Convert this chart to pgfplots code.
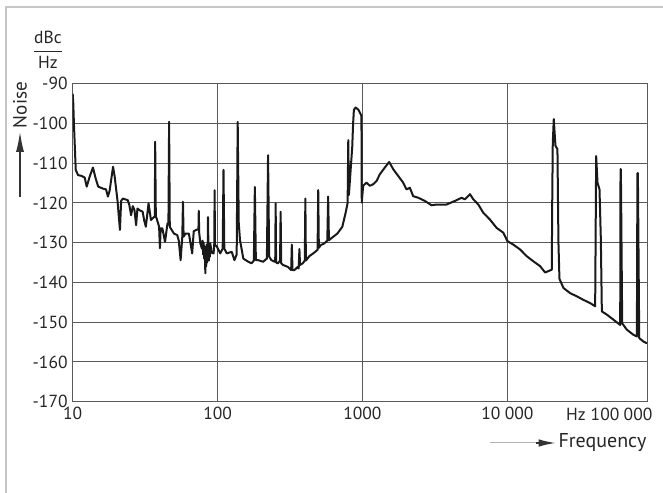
\documentclass[border=0pt]{standalone}
\usepackage{fontspec}
\setmainfont{PT Sans}
\usepackage{pgfplots}
\pgfplotsset{compat=1.18}
\usetikzlibrary{arrows.meta}
\begin{document}
\begin{tikzpicture}
\path[use as bounding box] (-43.6pt,-54.8pt) rectangle (354.2pt,241pt);
\draw[gray!45, line width=0.7pt] (-40pt,-54.8pt) -- (-40pt,236.8pt) -- (354.2pt,236.8pt);
\begin{axis}[
  at={(0,0)}, anchor=south west,
  scale only axis, width=344.6pt, height=190.8pt,
  xmode=log, xmin=10, xmax=92000, ymin=-170, ymax=-90,
  xtick={10,100,1000,10000}, xticklabels={10,100,1000,10\hspace{0.25em}000},
  ytick={-170,-160,-150,-140,-130,-120,-110,-100,-90},
  yticklabels={-170,-160,-150,-140,-130,-120,-110,-100,-90},
  xminorticks=false, yminorticks=false, major tick length=0pt,
  grid=major, major grid style={black!65, line width=0.6pt},
  axis line style={black!65, line width=0.6pt},
  ticklabel style={font=\fontsize{10.5}{12}\selectfont, text=black!85},
  xticklabel style={yshift=0.5pt},
  yticklabel style={xshift=0.5pt},
]
\addplot[black!90, line width=1.2pt, line join=round, mark=none] coordinates {
(10.0,-92.5) (10.1,-95) (10.2,-100) (10.5,-111.7) (10.9,-113.0) (11.5,-113.2) (12.1,-113.6)
(12.5,-115.9) (13.1,-113.4) (13.8,-111.1) (14.4,-113.8) (15.0,-115.9) (16.2,-116.4) (17.0,-116.6)
(17.5,-118.4) (18.0,-116.9) (19.0,-110.9) (19.5,-113.4) (20.4,-119.5) (21.2,-126.8) (21.6,-119.5)
(22.2,-118.9) (24.0,-119.3) (24.6,-120.5) (25.3,-123.1) (26.0,-120.8) (26.7,-121.8) (27.4,-125.6)
(28.0,-121.4) (28.8,-121.8) (30.4,-122.2) (31.2,-124.5) (32.0,-126.0) (33.4,-120.1) (34.7,-124.3)
(36.5,-123.5) (36.9,-123.5) (37.1,-104.6) (37.5,-123.5) (37.9,-123.8) (39.5,-126.0) (40.0,-131.4)
(40.5,-126.4) (41.6,-126.4) (43.4,-129.8) (45.1,-125.2) (45.8,-125.5) (46.3,-99.6) (46.8,-126.0)
(47.5,-126.4) (50.0,-127.7) (52.7,-128.1) (54.0,-129.5) (55.6,-134.4) (57.1,-128.5) (57.7,-119.7)
(58.3,-128.5) (60.1,-127.7) (63.4,-127.7) (66.8,-132.7) (68.5,-127.1) (72.2,-126.7) (73.8,-126.7)
(74.2,-122.0) (74.7,-127.5) (76.1,-130.2) (78.0,-131.5) (78.8,-129.5) (79.5,-133.0) (80.2,-130.0)
(80.8,-134.0) (81.5,-131.0) (82.0,-135.5) (82.4,-137.7) (82.9,-132.0) (83.5,-136.0) (84.0,-130.5)
(84.6,-135.0) (85.2,-131.0) (85.5,-133.0) (85.9,-123.6) (86.5,-131.5) (87.2,-134.5) (88.0,-130.5)
(88.6,-133.5) (89.1,-130.2) (91.0,-132.5) (93.9,-132.7)
(95.0,-130.0) (95.4,-116.8) (96.0,-130.5) (98.9,-131.0) (104.3,-132.7) (108.5,-131.5) (109.9,-111.7)
(111.3,-131.5) (115.8,-132.7) (125.3,-132.3) (130.7,-134.4) (135.5,-133.0) (137.7,-99.6) (140.0,-125.0)
(142.9,-129.4) (150.6,-134.0) (162.8,-134.8) (171.6,-135.2) (178.0,-134.5) (180.9,-116.0) (183.8,-134.4)
(190.6,-134.4) (206.3,-134.8) (219.0,-134.0) (223.1,-108.0) (227.0,-133.5) (235.1,-134.4) (247.8,-134.8)
(250.0,-134.5) (251.7,-120.1) (253.5,-135.0) (261.2,-135.2) (270.0,-134.5) (272.4,-122.2) (275.0,-135.2)
(282.5,-135.6) (305.6,-136.1) (322.1,-136.9) (325.5,-130.5) (329.0,-136.9) (339.5,-136.9) (357.7,-136.1)
(363.0,-136.5) (367.2,-131.6) (371.0,-135.6) (387.0,-135.2) (400.0,-134.5) (403.6,-118.9) (407.0,-134.5)
(429.8,-133.4) (465.0,-132.5) (490.0,-131.8) (495.2,-116.8) (500.0,-131.3) (516.4,-130.6) (544.3,-130.2)
(572.0,-129.5) (579.7,-118.4) (587.0,-129.4) (604.5,-129.0) (671.3,-127.7) (726.1,-126.0) (765.3,-122.5)
(790.0,-120.0) (798.2,-104.2) (806.0,-118.0) (819.4,-114.3) (835.0,-110.0) (850.1,-105.9) (862.0,-100.0)
(872.7,-96.6) (895.9,-96.0) (935.0,-96.5) (958.0,-97.2) (984.0,-98.1) (989.0,-119.9) (1011,-115.7)
(1066,-114.9) (1124,-115.7) (1185,-115.3) (1250,-114.5) (1318,-112.8) (1427,-111.1) (1529,-109.7)
(1629,-111.5) (1764,-113.2) (1910,-114.9) (2014,-116.6) (2124,-116.2) (2239,-118.3) (2425,-118.7)
(2697,-119.5) (2999,-120.6) (3247,-120.4) (3808,-120.4) (4346,-119.5) (4834,-118.7) (5097,-119.1)
(5521,-117.8) (5821,-119.1) (6303,-120.4) (6826,-122.5) (7590,-124.2) (8440,-126.3) (9384,-127.5)
(10000,-129.6) (11002,-130.5) (12233,-131.7) (13603,-133.4) (15124,-134.7) (16817,-135.9) (18216,-137.5)
(20255,-136.8) (20400,-120.0) (20580,-105.0) (20911,-98.9) (21473,-105.6) (22165,-106.5) (22521,-130.0)
(22882,-139.1) (24384,-141.4) (27115,-142.7) (30151,-143.5) (33526,-144.4) (37278,-145.2) (40364,-146.0)
(41011,-108.2) (41890,-114.9) (43250,-116.6) (44183,-129.2) (44890,-147.3) (48600,-148.1) (54040,-149.4)
(60090,-150.7) (60400,-111.5) (60730,-111.5) (62030,-150.3) (66820,-151.9) (74300,-153.2) (78340,-153.6)
(79000,-112.5) (79600,-112.5) (81300,-154.0) (87110,-154.9) (92000,-155.3)
};
\end{axis}
\node[font=\fontsize{10.5}{12}\selectfont, text=black!85, anchor=north] at (302pt,-0.5pt) {Hz};
\node[font=\fontsize{10.5}{12}\selectfont, text=black!85, anchor=north east, inner xsep=0pt] at (348pt,-0.5pt) {100\hspace{0.25em}000};
\node[font=\fontsize{10.5}{12}\selectfont, text=black!85] at (-14.8pt,211pt) {$\displaystyle\frac{\mbox{dBc}}{\mbox{Hz}}$};
\node[font=\fontsize{11.5}{13}\selectfont, text=black!85, rotate=90] at (-31.6pt,178pt) {Noise};
\draw[black!80, line width=0.7pt, -{Latex[length=12pt,width=4.8pt]}] (-31.6pt,122.8pt) -- (-31.6pt,161.8pt);
\draw[gray!60, line width=0.6pt] (250.4pt,-24.8pt) -- (280pt,-24.8pt);
\draw[black!80, line width=1.4pt, -{Latex[length=11pt,width=4.5pt]}] (278pt,-24.8pt) -- (290.6pt,-24.8pt);
\node[font=\fontsize{12}{14}\selectfont, text=black!85, anchor=west, inner xsep=0.5pt] at (290.8pt,-24.8pt) {Frequency};
\end{tikzpicture}
\end{document}
